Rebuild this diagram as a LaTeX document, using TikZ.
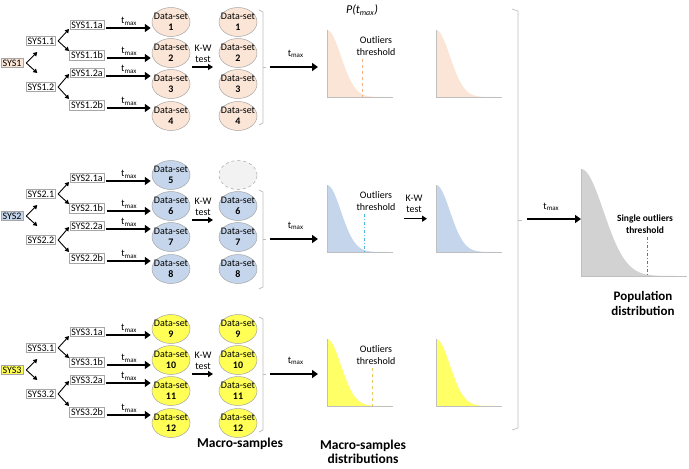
\documentclass[tikz,border=0pt]{standalone}
\usepackage{fontspec}
\setmainfont{Carlito}
\usetikzlibrary{shapes.geometric,arrows.meta}
\definecolor{orf}{HTML}{FBE5D6}
\definecolor{blf}{HTML}{C5D6EC}
\definecolor{yef}{HTML}{FFFF55}
\definecolor{yech}{HTML}{FFFF66}
\definecolor{grf}{HTML}{F2F2F2}
\definecolor{popf}{HTML}{D2D2D2}
\definecolor{bord}{HTML}{A6A6A6}
\definecolor{axisc}{HTML}{BFBFBF}
\definecolor{thor}{HTML}{F4B183}
\definecolor{thbl}{HTML}{4FB8E0}
\definecolor{thye}{HTML}{E8C95A}
\definecolor{thrd}{HTML}{C0504D}
\newcommand\fnine{\fontsize{10}{11}\selectfont}
\newcommand\distchart[5]{%
  \fill[#5] ({#1},{#2}) -- plot[domain=0:1,samples=60,smooth] ({#1+#3*\x},{#2+#4-#4*exp(-(\x*\x/0.09))}) -- ({#1+#3},{#2+#4}) -- ({#1},{#2+#4}) -- cycle;
  \draw[axisc,line width=0.6pt] ({#1},{#2}) -- ({#1},{#2+#4}) -- ({#1+#3},{#2+#4});}
\tikzset{
  sysbox/.style={draw=bord,line width=0.6pt,inner xsep=1.5pt,inner ysep=1.5pt,font=\fnine},
  ds/.style={ellipse,draw=bord,line width=0.5pt,minimum width=38pt,minimum height=29pt,inner sep=-4pt,align=center,font=\fnine},
  thick arrow/.style={-{Triangle[length=6pt,width=8pt]},line width=2.6pt},
  mid arrow/.style={-{Triangle[length=5pt,width=6pt]},line width=1.3pt},
  thin arrow/.style={-{Triangle[length=4pt,width=4.5pt]},line width=0.9pt},
  lbl/.style={font=\fontsize{10}{11.5}\selectfont,align=center,inner sep=0pt},
  tlbl/.style={font=\fnine,inner sep=0pt},
  brk/.style={draw=axisc,line width=0.7pt},
  chartbox/.style={inner sep=0pt,anchor=north west},
}
\begin{document}
\begin{tikzpicture}[x=1pt,y=-1pt]
\useasboundingbox (0,0) rectangle (689,469);

% ---------- left part of each group ----------
\foreach \g/\off/\col/\n in {1/0/orf/1,2/153/blf/5,3/307/yef/9}{
\begin{scope}[shift={(0,\off)}]
  \node[sysbox,fill=\col] (sys\g) at (12,63) {SYS\g};
  \node[sysbox] (sysA\g) at (41,41) {SYS\g.1};
  \node[sysbox] (sysB\g) at (41,87) {SYS\g.2};
  \draw[thin arrow] ([xshift=3pt]sys\g.east) -- ++(11,-11);
  \draw[thin arrow] ([xshift=3pt]sys\g.east) -- ++(11,10);
  \draw[thin arrow] ([xshift=2pt]sysA\g.east) -- ++(11,-12);
  \draw[thin arrow] ([xshift=2pt]sysA\g.east) -- ++(11,10);
  \draw[thin arrow] ([xshift=2pt]sysB\g.east) -- ++(11,-13);
  \draw[thin arrow] ([xshift=2pt]sysB\g.east) -- ++(11,12);
  \foreach \r/\suf/\by/\ey in {1/1a/25/22,2/1b/55/53,3/2a/73/84,4/2b/105/116}{
    \pgfmathtruncatemacro\k{\n+\r-1}
    \node[sysbox] (b\g\r) at (87,\by) {SYS\g.\suf};
    \node[ds,fill=\col] (e\g\r) at (171,\ey) {Data-set\\\textbf{\k}};
    \coordinate (t\g\r) at ([shift={(2,3)}]b\g\r.east);
    \draw[thick arrow,shorten >=1pt] (t\g\r) -- (t\g\r -| e\g\r.west)
      node[midway,above=1.5pt,tlbl] {t\textsubscript{max}};
    \ifnum\g\r=21
      \node[ds,fill=grf,dashed] (f\g\r) at (238,\ey) {};
    \else
      \node[ds,fill=\col] (f\g\r) at (238,\ey) {Data-set\\\textbf{\k}};
    \fi
  }
  \node[lbl] (kw\g) at (203,54) {K-W\\test};
  \coordinate (ka\g) at (192,67);
  \draw[mid arrow] (ka\g) -- ++(21,0);
\end{scope}
}

% ---------- braces after macro-samples ----------
\draw[brk] (259,10) -- (263,12) -- (263,123) -- (259,125);
\draw[brk] (263,67) -- (266,67);
\draw[brk] (259,190) -- (263,192) -- (263,287) -- (259,289);
\draw[brk] (263,239) -- (266,239);
\draw[brk] (259,317) -- (263,319) -- (263,430) -- (259,432);
\draw[brk] (263,374) -- (266,374);

% ---------- distribution charts ----------
\node[font=\fontsize{12}{14}\selectfont\itshape,inner sep=0pt] (ptitle) at (362,10) {P(t\textsubscript{max})};

\foreach \g/\top/\col/\thx/\thc/\thd/\ay in {1/30/orf/362/thor/dashed/67,2/185/blf/364/thbl/dash dot/239,3/339/yech/372/thye/dashed/374}{
  \distchart{327}{\top}{66}{67}{\col}
  \distchart{436}{\top}{66}{67}{\col}
  \node[chartbox,minimum width=66pt,minimum height=67pt] (c\g1) at (327,\top) {};
  \node[chartbox,minimum width=66pt,minimum height=67pt] (c\g2) at (436,\top) {};
  \draw[\thc,line width=0.9pt,\thd] (\thx,{\top+29}) -- (\thx,{\top+67});
  \node[lbl] (ot\g) at (376,{\top+16}) {Outliers\\threshold};
  \coordinate (br\g) at (270,\ay);
  \draw[thick arrow,shorten >=9pt] (br\g) -- (br\g -| c\g1.west)
    node[pos=0.45,above=8pt,tlbl] {t\textsubscript{max}};
}
\node[lbl] (kwd) at (414,204) {K-W\\test};
\draw[mid arrow,shorten <=11pt,shorten >=9pt] (c21.east) -- (c22.west);

% ---------- big bracket ----------
\draw[brk] (512,9) -- (518,11) -- (518,428) -- (512,430);
\draw[brk] (518,220) -- (522,220);

% ---------- population distribution ----------
\distchart{581}{169}{106}{107}{popf}
\node[chartbox,minimum width=106pt,minimum height=107pt] (cP) at (581,169) {};
\draw[thrd,line width=0.9pt,dash dot] (647,237) -- (647,276);
\node[font=\fontsize{9.5}{12}\selectfont\bfseries,align=center,inner sep=0pt] (sot) at (645,224) {Single outliers\\threshold};
\coordinate (bp) at (527,219);
\draw[thick arrow] (bp) -- (bp -| cP.west)
  node[pos=0.45,above=7pt,tlbl] {t\textsubscript{max}};

% ---------- captions ----------
\node[font=\fontsize{13.5}{15}\selectfont\bfseries,inner sep=0pt] (cap1) at (240,444) {Macro-samples};
\node[font=\fontsize{13.5}{14.5}\selectfont\bfseries,align=center,inner sep=0pt] (cap2) at (363,452) {Macro-samples\\distributions};
\node[font=\fontsize{13}{15}\selectfont\bfseries,align=center,inner sep=0pt] (cap3) at (643,303) {Population\\distribution};
\end{tikzpicture}
\end{document}
